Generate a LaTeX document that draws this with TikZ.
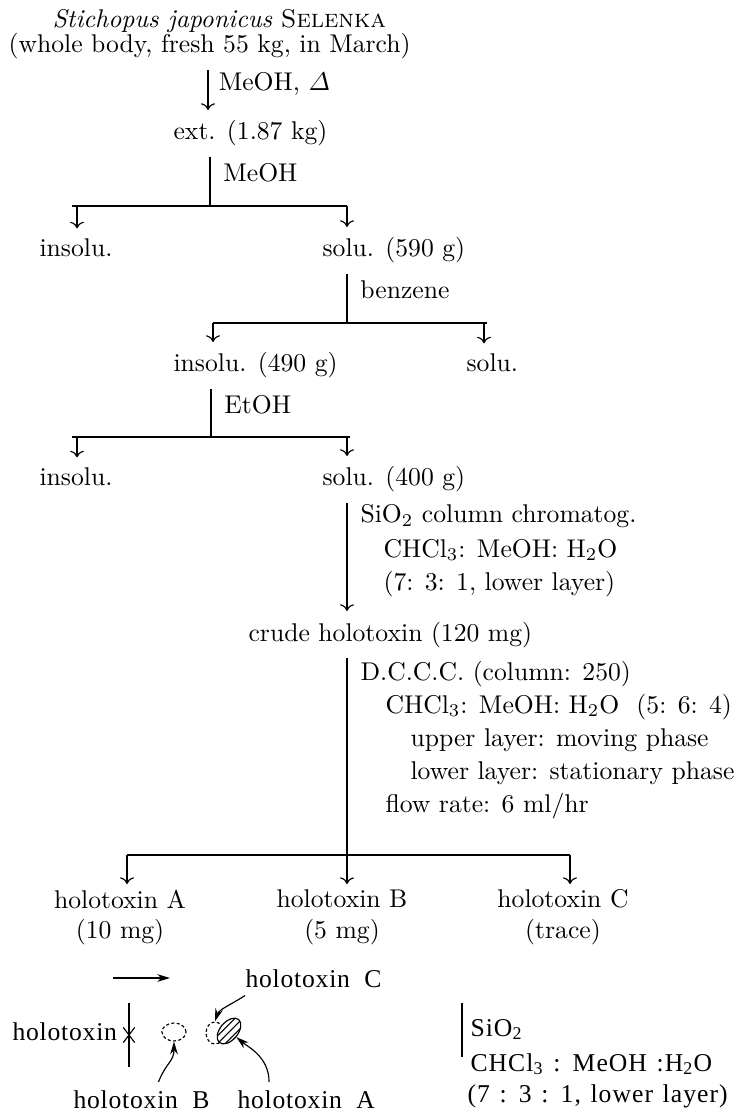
\documentclass[tikz,border=0pt]{standalone}
\usepackage{amsmath}
\usepackage{fontspec}
\usetikzlibrary{arrows.meta,shapes.geometric,shapes.misc,patterns}
\newfontfamily\tlcfont{Liberation Serif}[LetterSpace=3,WordSpace=2]
\newfontfamily\elufont{Liberation Serif}[LetterSpace=4,WordSpace=1.3]
\tikzset{
  txt/.style={anchor=base west,inner xsep=0pt,inner ysep=4pt},
  bar/.style={line width=0.6pt},
  tlc/.style={anchor=base west,inner xsep=0pt,inner ysep=3pt,font=\tlcfont},
  elu/.style={anchor=base west,inner xsep=0pt,inner ysep=3pt,font=\elufont},
  tlcarr/.style={-{Stealth[length=5pt,width=3pt]}},
  spot/.style={ellipse,draw,inner sep=0pt,dash pattern=on 1.2pt off 0.9pt},
}
\begin{document}
\begin{tikzpicture}[x=0.39pt,y=-0.39pt,line width=0.45pt]
  \useasboundingbox (0,0) rectangle (746,1115);
  \node[txt] (src) at (52,28) {\textit{Stichopus japonicus} \textsc{Selenka}};
  \node[txt] (src2) at (8,53) {(whole body, fresh 55 kg, in March)};
  \node[txt] (ext) at (173,140) {ext. (1.87 kg)};
  \coordinate (k0) at (208,0);
  \draw[->] (k0 |- src2.south) -- (k0 |- ext.north) node[txt,midway,xshift=4pt] {MeOH, $\varDelta$};
  % first split
  \node[txt] (ins1) at (39,257) {insolu.};
  \node[txt] (sol1) at (322,257) {solu. (590 g)};
  \coordinate (b1m) at (210,206);
  \coordinate (b1l) at (77,206);
  \coordinate (b1r) at (347,206);
  \draw (b1m |- ext.south) -- (b1m) node[txt,midway,xshift=5pt] {MeOH};
  \draw[bar] ([xshift=-2pt]b1l) -- (b1r);
  \draw[->] (b1l) -- (b1l |- ins1.north);
  \draw[->] (b1r) -- (b1r |- sol1.north);
  % benzene
  \node[txt] (ins2) at (173,372) {insolu. (490 g)};
  \node[txt] (sol2) at (466,372) {solu.};
  \coordinate (b2m) at (347,323);
  \coordinate (b2l) at (213,323);
  \coordinate (b2r) at (484,323);
  \draw (b2m |- sol1.south) -- (b2m) node[txt,midway,xshift=5pt] {benzene};
  \draw[bar] (b2l) -- ([xshift=1pt]b2r);
  \draw[->] (b2l) -- (b2l |- ins2.north);
  \draw[->] (b2r) -- (b2r |- sol2.north);
  % EtOH
  \node[txt] (ins3) at (39,486) {insolu.};
  \node[txt] (sol3) at (322,486) {solu. (400 g)};
  \coordinate (b3m) at (211,437);
  \coordinate (b3l) at (77,437);
  \coordinate (b3r) at (347,437);
  \draw (b3m |- ins2.south) -- (b3m) node[txt,midway,xshift=5pt] {EtOH};
  \draw[bar] ([xshift=-2pt]b3l) -- ([xshift=1pt]b3r);
  \draw[->] (b3l) -- (b3l |- ins3.north);
  \draw[->] (b3r) -- (b3r |- sol3.north);
  % column
  \node[txt] (crude) at (248,641) {crude holotoxin (120 mg)};
  \coordinate (k4) at (347,0);
  \draw[->] (k4 |- sol3.south) -- (k4 |- crude.north);
  \node[txt] (col1) at (360,523) {SiO$_2$ column chromatog.};
  \node[txt] (col2) at (383,557) {CHCl$_3$: MeOH: H$_2$O};
  \node[txt] (col3) at (383,590) {(7: 3: 1, lower layer)};
  % D.C.C.C.
  \node[txt] (dc1) at (360,680) {D.C.C.C. (column: 250)};
  \node[txt] (dc2) at (385,713) {CHCl$_3$: MeOH: H$_2$O\ \ (5: 6: 4)};
  \node[txt] (dc3) at (410,746) {upper layer: moving phase};
  \node[txt] (dc4) at (410,779) {lower layer: stationary phase};
  \node[txt] (dc5) at (385,812) {flow rate: 6 ml/hr};
  \node[align=center,anchor=north,inner sep=2pt] (hA) at (120,884) {holotoxin A\\(10 mg)};
  \node[align=center,anchor=north,inner sep=2pt] (hB) at (342,884) {holotoxin B\\(5 mg)};
  \node[align=center,anchor=north,inner sep=2pt] (hC) at (563,884) {holotoxin C\\(trace)};
  \coordinate (b4m) at (347,855);
  \coordinate (b4l) at (127,855);
  \coordinate (b4r) at (570,855);
  \draw (b4m |- crude.south) -- (b4m);
  \draw[bar] (b4l) -- (b4r);
  \foreach \p/\h in {b4l/hA,b4m/hB,b4r/hC}
    \draw[->] (\p) -- (\p |- \h.north);
  % TLC
  \coordinate (dev) at (113,978);
  \draw[tlcarr] (dev) -- ++(57,0);
  \node[tlc] (labX) at (12,1040) {holotoxin};
  \node[cross out,draw,minimum width=4pt,minimum height=5.5pt,inner sep=0pt] (sX) at (129,1035) {};
  \draw (sX.center) ++(0,-32) -- ++(0,64);
  \node[spot,minimum width=9.4pt,minimum height=7pt] (sB) at (174,1032) {};
  \node[spot,minimum width=7pt,minimum height=8.6pt] (sC) at (215,1033) {};
  \node[ellipse,draw,inner sep=0pt,minimum width=7pt,minimum height=11.7pt,rotate=-40,
        preaction={fill=white},pattern=north east lines] (sA) at (229,1031) {};
  \node[tlc] (labC) at (245,987) {holotoxin C};
  \node[tlc] (labB) at (73,1108) {holotoxin B};
  \node[tlc] (labA) at (237,1108) {holotoxin A};
  \draw[tlcarr] (labC.south west) .. controls +(-12,8) and +(4,-12) .. (sC.north);
  \draw[tlcarr] ([xshift=6.6pt]labB.north) .. controls +(8,-20) and +(0,20) .. (sB.south);
  \draw[tlcarr] ([xshift=12.5pt]labA.north west) .. controls +(0,-25) and +(12,10) .. (sA.east);
  \coordinate (sv) at (462,1003);
  \draw (sv) -- ++(0,54);
  \node[elu] (el1) at (470,1036) {SiO\textsubscript{2}};
  \node[elu] (el2) at (470,1071) {CHCl\textsubscript{3} : MeOH :H\textsubscript{2}O};
  \node[elu] (el3) at (467,1102) {(7 : 3 : 1, lower layer)};
\end{tikzpicture}
\end{document}
